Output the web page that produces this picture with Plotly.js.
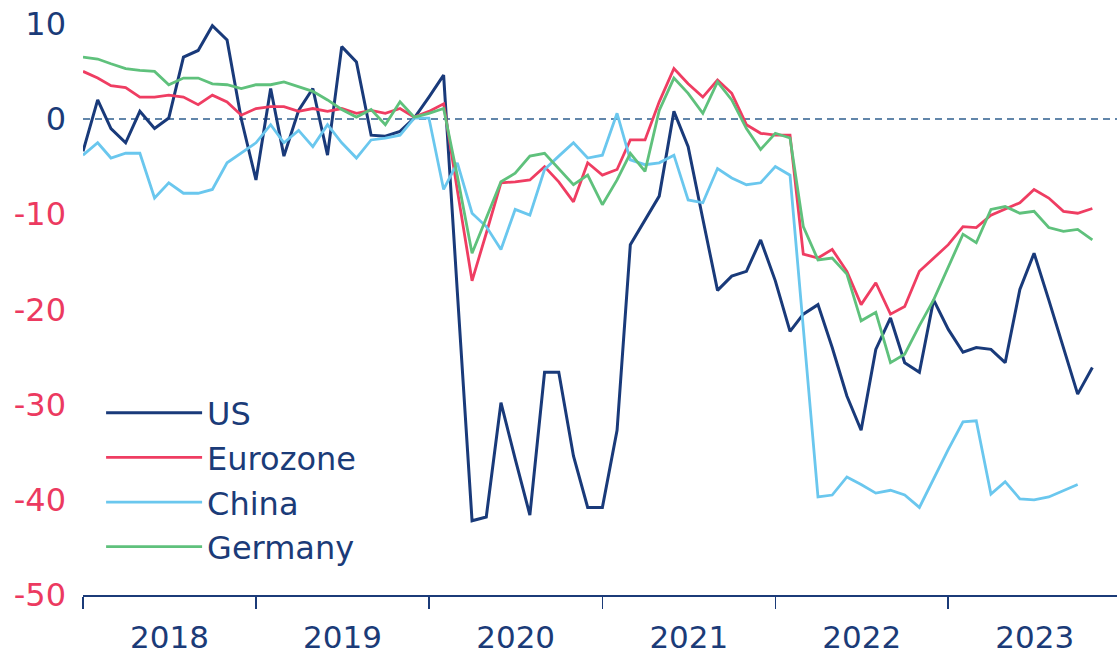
<!DOCTYPE html>
<html>
<head>
<meta charset="utf-8">
<script src="https://cdn.plot.ly/plotly-3.0.1.min.js"></script>
<style>
  html, body { margin: 0; padding: 0; background: #ffffff; }
  #chart { width: 1117px; height: 657px; }
</style>
</head>
<body>
<div id="chart"></div>
<script>
// Monthly observations, Jan 2018 .. Nov 2023
const startYear = 2018;
const nMonths = 71;
const months = [];
for (let i = 0; i < nMonths; i++) {
  const y = startYear + Math.floor(i / 12);
  const m = (i % 12) + 1;
  months.push(y + '-' + (m < 10 ? '0' + m : m) + '-01');
}

const seriesNames = ['US', 'Eurozone', 'China', 'Germany'];

const us = [
  -3.4, 2.0, -1.0, -2.5, 0.8, -1.0, 0.1, 6.5, 7.2, 9.8, 8.3, 0.0,
  -6.4, 3.2, -3.9, 0.9, 3.2, -3.8, 7.6, 6.0, -1.7, -1.8, -1.3, 0.1,
  2.3, 4.6, -18.2, -42.2, -41.8, -29.8, -35.7, -41.6, -26.6, -26.6, -35.4, -40.8,
  -40.8, -32.7, -13.2, -10.6, -8.1, 0.8, -2.9, -10.5, -18.0, -16.5, -16.0, -12.7,
  -17.0, -22.3, -20.5, -19.5, -24.0, -29.1, -32.7, -24.2, -20.9, -25.6, -26.6, -19.0,
  -22.1, -24.5, -24.0, -24.2, -25.6, -17.9, -14.1, -19.0, -24.0, -28.9, -26.1
];

const eurozone = [
  5.0, 4.3, 3.5, 3.3, 2.3, 2.3, 2.5, 2.3, 1.5, 2.5, 1.8, 0.4,
  1.1, 1.3, 1.3, 0.8, 1.1, 0.8, 1.1, 0.6, 0.9, 0.6, 1.1, 0.2,
  0.8, 1.6, -7.5, -17.0, -12.0, -6.7, -6.6, -6.4, -5.0, -6.6, -8.7, -4.6,
  -5.9, -5.3, -2.2, -2.2, 1.8, 5.3, 3.7, 2.3, 4.1, 2.7, -0.6, -1.5,
  -1.7, -1.7, -14.2, -14.6, -13.7, -16.0, -19.5, -17.2, -20.5, -19.7, -16.0, -14.6,
  -13.2, -11.3, -11.4, -10.1, -9.5, -8.8, -7.4, -8.3, -9.7, -9.9, -9.4
];

const china = [
  -3.8, -2.5, -4.1, -3.6, -3.6, -8.3, -6.7, -7.8, -7.8, -7.4, -4.6, -3.6,
  -2.5, -0.6, -2.5, -1.2, -2.9, -0.6, -2.5, -4.1, -2.2, -2.0, -1.7, 0.1,
  0.1, -7.4, -4.6, -9.9, -11.3, -13.7, -9.5, -10.1, -5.3, -3.9, -2.5, -4.1,
  -3.8, 0.6, -4.3, -4.8, -4.6, -3.8, -8.5, -8.8, -5.2, -6.2, -6.9, -6.7,
  -5.0, -5.9, -22.0, -39.7, -39.5, -37.6, -38.4, -39.3, -39.0, -39.5, -40.8, -37.8,
  -34.7, -31.8, -31.7, -39.4, -38.1, -39.9, -40.0, -39.7, -39.0, -38.4
];

const germany = [
  6.5, 6.3, 5.8, 5.3, 5.1, 5.0, 3.6, 4.3, 4.3, 3.7, 3.6, 3.2,
  3.6, 3.6, 3.9, 3.4, 2.9, 2.0, 1.0, 0.2, 1.0, -0.6, 1.8, 0.2,
  0.6, 1.1, -6.0, -14.1, -10.5, -6.6, -5.7, -3.9, -3.6, -5.2, -6.9, -5.9,
  -9.0, -6.4, -3.6, -5.5, 0.9, 4.3, 2.7, 0.6, 3.9, 2.0, -1.0, -3.2,
  -1.5, -2.0, -11.3, -14.8, -14.6, -16.3, -21.2, -20.3, -25.6, -24.7, -21.7, -19.0,
  -15.5, -12.1, -13.0, -9.5, -9.2, -9.9, -9.7, -11.4, -11.8, -11.6, -12.7
];

const yTickVals = [-50, -40, -30, -20, -10, 0, 10];
const yTickLabels = ['-50', '-40', '-30', '-20', '-10', '0', '10'];

const NAVY = '#1b3b78';
const RED = '#ec3a60';
const colors = { US: '#193a7a', Eurozone: '#ef3d62', China: '#6ac7ee', Germany: '#5fc17c' };
const values = { US: us, Eurozone: eurozone, China: china, Germany: germany };

const traces = seriesNames.map(name => ({
  type: 'scatter',
  mode: 'lines',
  name: name,
  x: months.slice(0, values[name].length),
  y: values[name],
  line: { color: colors[name], width: name === 'US' ? 3 : 2.8 },
  hoverinfo: 'x+y+name'
}));

const tickText = yTickVals.map((v, i) =>
  '<span style="color:' + (v < 0 ? RED : NAVY) + '">' + yTickLabels[i] + '</span>');

const FONT = 'DejaVu Sans, Open Sans, sans-serif';

const layout = {
  width: 1117,
  height: 657,
  margin: { l: 83, r: 0, t: 0, b: 62 },
  paper_bgcolor: '#ffffff',
  plot_bgcolor: '#ffffff',
  font: { family: FONT, size: 32, color: NAVY },
  showlegend: true,
  legend: {
    x: 0.0175, xanchor: 'left',
    y: 0.352, yanchor: 'top',
    bgcolor: 'rgba(0,0,0,0)',
    font: { family: FONT, size: 32, color: NAVY },
    itemwidth: 96,
    tracegroupgap: 0
  },
  xaxis: {
    type: 'date',
    range: ['2018-01-01', '2023-12-23'],
    tick0: '2018-01-01',
    dtick: 'M12',
    tickformat: '%Y',
    ticklabelmode: 'period',
    ticks: 'outside',
    ticklen: 12,
    tickwidth: 1.6,
    tickcolor: NAVY,
    showline: true,
    linecolor: NAVY,
    linewidth: 1.6,
    showgrid: false,
    zeroline: false,
    tickfont: { family: FONT, size: 31, color: NAVY },
    ticklabelstandoff: 2,
    fixedrange: true
  },
  yaxis: {
    range: [-50, 12.5],
    tickmode: 'array',
    tickvals: yTickVals,
    ticktext: tickText,
    ticks: '',
    showline: false,
    showgrid: false,
    zeroline: false,
    tickfont: { family: FONT, size: 32, color: NAVY },
    ticklabelstandoff: 16,
    fixedrange: true
  },
  shapes: [{
    type: 'line', layer: 'below',
    xref: 'paper', x0: 0, x1: 1,
    yref: 'y', y0: 0, y1: 0,
    line: { color: '#2f5f8f', width: 1.3, dash: '7px,5px' }
  }]
};

Plotly.newPlot('chart', traces, layout, { displayModeBar: false, staticPlot: true });
</script>
</body>
</html>
